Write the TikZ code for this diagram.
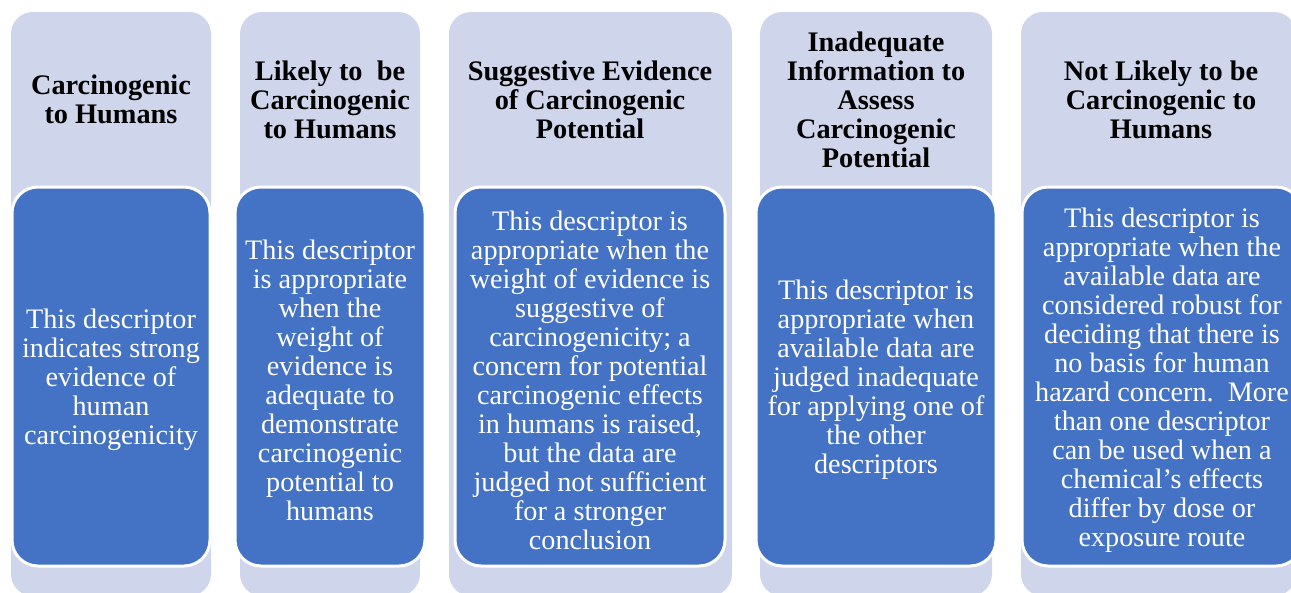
\documentclass[tikz,border=0pt]{standalone}
\usepackage{fontspec}
\setmainfont{Liberation Serif}
\definecolor{lav}{HTML}{CFD5EA}
\definecolor{blu}{HTML}{4472C4}
\begin{document}
\begin{tikzpicture}[x=1pt,y=-1pt,
  lavbox/.style={fill=lav, rounded corners=22pt, inner sep=0pt, outer sep=0pt, minimum height=584pt},
  bluebox/.style={fill=blu, draw=white, line width=3pt, rounded corners=26pt, inner sep=0pt, minimum height=379pt},
  bodytext/.style={align=center, text=white, inner sep=0pt, font=\fontsize{28.2}{29}\selectfont},
  head/.style={align=center, inner sep=0pt, font=\fontsize{28.3}{29}\selectfont\bfseries}]
\useasboundingbox (0,0) rectangle (1291,592);
\clip (0,0) rectangle (1291,592);
% lavender backgrounds
\node[lavbox, minimum width=200pt] (l1) at (111,304) {};
\node[lavbox, minimum width=180pt] (l2) at (330,304) {};
\node[lavbox, minimum width=283pt] (l3) at (590.5,304) {};
\node[lavbox, minimum width=232pt] (l4) at (876,304) {};
\node[lavbox, minimum width=275pt] (l5) at (1158.5,304) {};
% headers
\node[head] (h1) at (111,99.5) {Carcinogenic\\to Humans};
\node[head] (h2) at (330,99.5) {Likely to\ \ be\\Carcinogenic\\to Humans};
\node[head] (h3) at (590,99.5) {Suggestive Evidence\\of Carcinogenic\\Potential};
\node[head] (h4) at (876,99.5) {Inadequate\\Information to\\Assess\\Carcinogenic\\Potential};
\node[head] (h5) at (1161,99.5) {Not Likely to be\\Carcinogenic to\\Humans};
% blue boxes
\node[bluebox, minimum width=198pt] (b1) at (111,376.5) {};
\node[bluebox, minimum width=190pt] (b2) at (330,376.5) {};
\node[bluebox, minimum width=270pt] (b3) at (590,376.5) {};
\node[bluebox, minimum width=240pt] (b4) at (876,376.5) {};
\node[bluebox, minimum width=280pt] (b5) at (1162,376.5) {};
% body texts
\node[bodytext] (t1) at ([yshift=-3.5pt]b1.center)
  {This descriptor\\indicates strong\\evidence of\\human\\carcinogenicity};
\node[bodytext] (t2) at ([yshift=-3.5pt]b2.center)
  {This descriptor\\is appropriate\\when the\\weight of\\evidence is\\adequate to\\demonstrate\\carcinogenic\\potential to\\humans};
\node[bodytext] (t3) at ([yshift=-3.5pt]b3.center)
  {This descriptor is\\appropriate when the\\weight of evidence is\\suggestive of\\carcinogenicity; a\\concern for potential\\carcinogenic effects\\in humans is raised,\\but the data are\\judged not sufficient\\for a stronger\\conclusion};
\node[bodytext] (t4) at ([yshift=-3.5pt]b4.center)
  {This descriptor is\\appropriate when\\available data are\\judged inadequate\\for applying one of\\the other\\descriptors};
\node[bodytext] (t5) at ([yshift=-3.5pt]b5.center)
  {This descriptor is\\appropriate when the\\available data are\\considered robust for\\deciding that there is\\no basis for human\\hazard concern.\ \ More\\than one descriptor\\can be used when a\\chemical’s effects\\differ by dose or\\exposure route};
\end{tikzpicture}
\end{document}
